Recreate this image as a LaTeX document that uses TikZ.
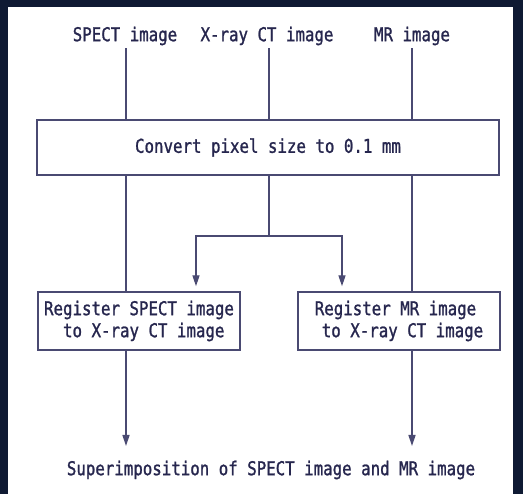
\documentclass[tikz,border=0pt]{standalone}
\usepackage{fontspec}
\newfontfamily\gothic[FakeStretch=0.83,FakeBold=1.2]{DejaVu Sans Mono}
\usetikzlibrary{positioning,arrows.meta,calc}
\definecolor{inkc}{HTML}{26264E}
\definecolor{linec}{HTML}{4A4A72}
\definecolor{framec}{HTML}{0F1A33}
\tikzset{
  lbl/.style={font=\gothic\fontsize{19}{22}\selectfont,text=inkc,inner sep=3pt},
  procbox/.style={lbl,draw=linec,line width=1.4pt,minimum width=202pt,minimum height=58pt,align=left},
  flow/.style={line width=1.4pt,draw=linec},
  flowarr/.style={flow,-{Triangle[length=11pt,width=7pt]}},
}
\begin{document}
\begin{tikzpicture}[x=1pt,y=-1pt]
  \useasboundingbox (0,0) rectangle (523,494);
  \fill[white] (0,0) rectangle (523,494);
  % dark frame
  \fill[framec] (0,0) rectangle (8,494);
  \fill[framec] (0,0) rectangle (523,7);
  \fill[framec] (513,0) rectangle (523,494);
  % column positions
  \coordinate (cs) at (126,0);
  \coordinate (cx) at (269,0);
  \coordinate (cm) at (412,0);
  % input labels
  \node[lbl] (spect) at (125,36) {SPECT image};
  \node[lbl] (ct) at (267,36) {X-ray CT image};
  \node[lbl] (mr) at (412,36) {MR image};
  % boxes
  \node[procbox,minimum width=462pt,minimum height=55pt] (conv) at (268,147.5)
    {Convert pixel size to 0.1 mm};
  \node[procbox] (regs) at (139,321)
    {Register SPECT image\\\hspace*{19pt}to X-ray CT image};
  \node[procbox] (regm) at (399,321)
    {Register MR image\\\hspace*{7pt}to X-ray CT image};
  \node[lbl] (sup) at (271,470) {Superimposition of SPECT image and MR image};
  % inputs into convert box
  \foreach \src/\col in {spect/cs,ct/cx,mr/cm}
    \draw[flow] (\src.south -| \col) -- (conv.north -| \col);
  % pass-through lines
  \draw[flow] (conv.south -| cs) -- (regs.north -| cs);
  \draw[flow] (conv.south -| cm) -- (regm.north -| cm);
  % CT branch
  \coordinate (br) at (0,236);
  \coordinate (bl) at (196,0);
  \coordinate (bk) at (342,0);
  \draw[flowarr,shorten >=5pt] (conv.south -| cx) |- (bl |- br) -- (regs.north -| bl);
  \draw[flowarr,shorten >=5pt] (cx |- br) -| (regm.north -| bk);
  % outputs
  \coordinate (es) at (126,446);
  \coordinate (em) at (412,446);
  \draw[flowarr] (regs.south -| cs) -- (es);
  \draw[flowarr] (regm.south -| cm) -- (em);
\end{tikzpicture}
\end{document}
